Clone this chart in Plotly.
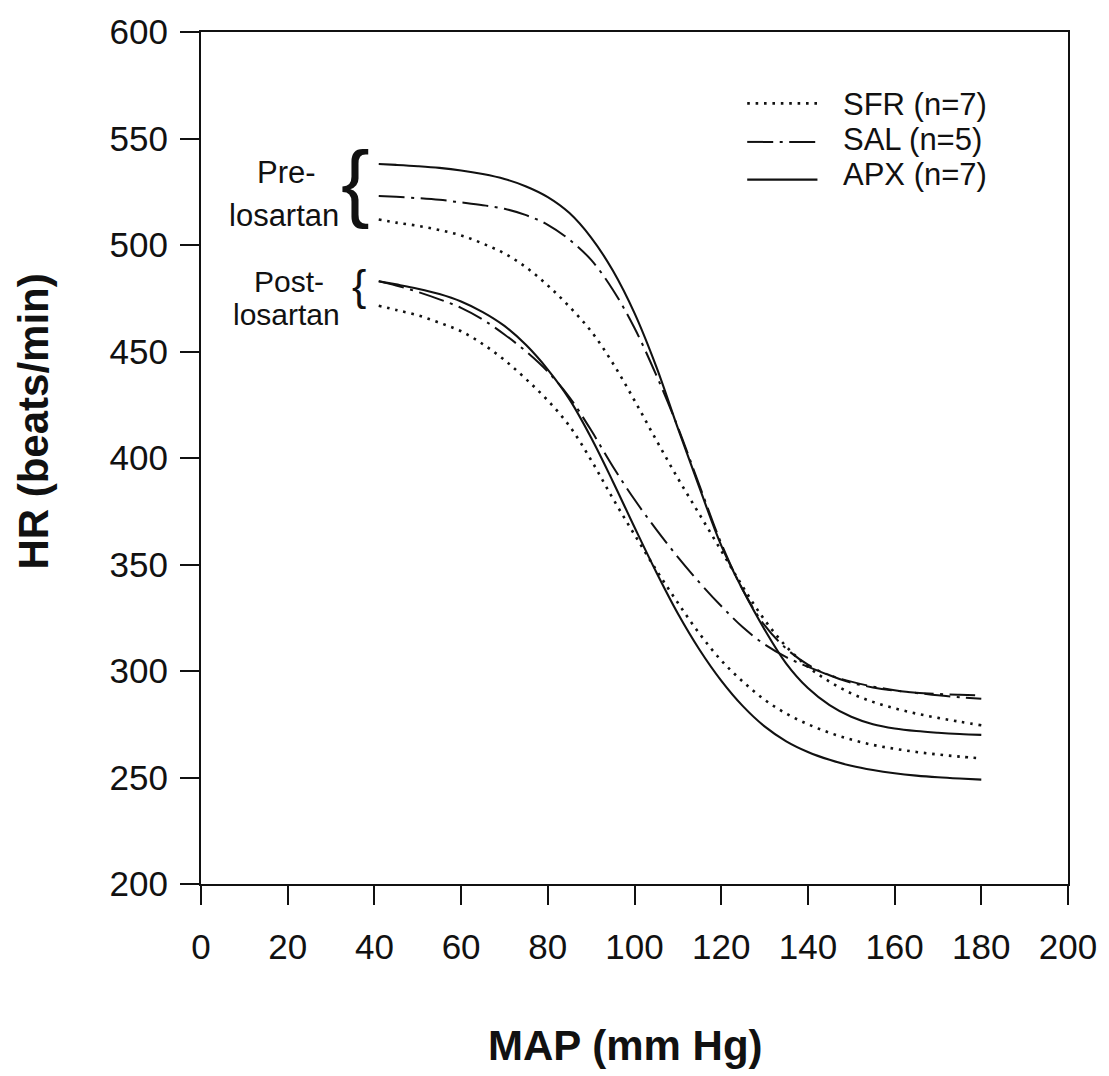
import plotly.graph_objects as go

# ---------------- data ----------------
MAP = [41, 45, 50, 55, 60, 65, 70, 75, 80, 85, 90, 95, 100, 105, 110, 115, 120,
       125, 130, 135, 140, 145, 150, 155, 160, 165, 170, 175, 180]

pre_sfr = [512, 510.5, 509, 507, 504.5, 500.7, 496, 489.5, 481, 471, 459.5, 444.5, 427, 408.5, 390.5,
           373.5, 356.5, 339.5, 324, 311.5, 302, 295, 289.5, 285.5, 282.5, 280, 278, 276.2, 274.5]
pre_sal = [523, 522.6, 522, 521.2, 520, 518.7, 517, 514, 509.5, 502.5, 493, 479, 461, 439, 414.5,
           387, 360, 338, 321.5, 310.5, 303, 298, 294.5, 292.3, 290.8, 289.8, 289.2, 288.8, 288.5]
pre_apx = [538, 537.6, 537, 536.2, 535, 533.3, 531, 527.5, 522.5, 515, 503.5, 488, 468, 443, 414,
           386, 359, 338, 319.5, 303.5, 292, 284, 278.5, 275, 273, 271.8, 271, 270.4, 270]

post_sfr = [471.5, 469.5, 467, 463.5, 459.5, 453.5, 446, 437, 427, 415, 399, 381, 364, 347.5, 332,
            317.5, 305, 295, 286.5, 280, 275, 271, 267.8, 265.3, 263.5, 262, 260.8, 259.8, 259]
post_sal = [483, 481, 478, 474.5, 470.5, 465, 458, 450, 440.5, 428.5, 413, 396, 380.5, 366.5, 353.5,
            341.5, 330.5, 320.5, 312.5, 306.5, 302, 298, 295, 292.7, 291, 289.7, 288.6, 287.7, 287]
post_apx = [483, 481.5, 479.5, 477, 473.5, 468.5, 462, 453, 441.5, 427.5, 409.5, 389, 367.5, 346.5, 327,
            310, 295.5, 283.5, 274, 267, 262, 258.3, 255.5, 253.5, 252, 250.9, 250.1, 249.5, 249]

groups = ["SFR (n=7)", "SAL (n=5)", "APX (n=7)"]
x_ticks = [0, 20, 40, 60, 80, 100, 120, 140, 160, 180, 200]
y_ticks = [200, 250, 300, 350, 400, 450, 500, 550, 600]

# ---------------- styles ----------------
FONT = "Liberation Sans, Arial, sans-serif"
BLACK = "#111111"
styles = {
    "SFR (n=7)": dict(width=2.6, dash="2.6px,5.8px"),
    "SAL (n=5)": dict(width=2.0, dash="26px,6.5px,3px,6.5px"),
    "APX (n=7)": dict(width=2.1, dash="solid"),
}

fig = go.Figure()

series = [
    ("SFR (n=7)", pre_sfr), ("SAL (n=5)", pre_sal), ("APX (n=7)", pre_apx),
    ("SFR (n=7)", post_sfr), ("SAL (n=5)", post_sal), ("APX (n=7)", post_apx),
]
for name, ys in series:
    st = styles[name]
    fig.add_trace(go.Scatter(
        x=MAP, y=ys, mode="lines", name=name, showlegend=False,
        line=dict(color=BLACK, width=st["width"], dash=st["dash"], shape="spline", smoothing=1.0),
        hoverinfo="skip",
    ))

# ---------------- manual legend ----------------
legend_line_y = [566.5, 548.4, 530.7]
legend_text_y = [566, 549.3, 533]
for g, ly, ty in zip(groups, legend_line_y, legend_text_y):
    st = styles[g]
    fig.add_shape(type="line", xref="x", yref="y", x0=126.0, x1=142.2, y0=ly, y1=ly,
                  line=dict(color=BLACK, width=st["width"], dash=st["dash"]))
    fig.add_annotation(x=147.7, y=ty, xref="x", yref="y", text=g, showarrow=False,
                       xanchor="left", yanchor="middle",
                       font=dict(family=FONT, size=31, color=BLACK))

# ---------------- Pre-/Post- losartan labels with braces ----------------
labels = [
    ("Pre-", 19.8, 533.9, 31), ("losartan", 19.1, 514.0, 31),
    ("Post-", 20.2, 483.0, 30), ("losartan", 19.7, 467.2, 30),
]
for t, x, y, s in labels:
    fig.add_annotation(x=x, y=y, xref="x", yref="y", text=t, showarrow=False,
                       xanchor="center", yanchor="middle",
                       font=dict(family=FONT, size=s, color=BLACK))

fig.add_annotation(x=35.7, y=530.0, xref="x", yref="y", text="{", showarrow=False,
                   xanchor="center", yanchor="middle",
                   font=dict(family=FONT, size=86, color=BLACK))
fig.add_annotation(x=36.4, y=481.3, xref="x", yref="y", text="{", showarrow=False,
                   xanchor="center", yanchor="middle",
                   font=dict(family=FONT, size=43, color=BLACK))

# ---------------- axis titles ----------------
fig.add_annotation(x=0.49, y=-0.189, xref="paper", yref="paper", text="MAP (mm Hg)",
                   showarrow=False, xanchor="center", yanchor="middle",
                   font=dict(family=FONT, size=42, color=BLACK, weight="bold"))
fig.add_annotation(x=-0.1935, y=0.543, xref="paper", yref="paper", text="HR (beats/min)",
                   showarrow=False, xanchor="center", yanchor="middle", textangle=-90,
                   font=dict(family=FONT, size=42, color=BLACK, weight="bold"))

axis_common = dict(
    showgrid=False, zeroline=False, showline=True, linecolor=BLACK, linewidth=2,
    mirror=True, ticks="outside", ticklen=19, tickwidth=2, tickcolor=BLACK,
    tickfont=dict(family=FONT, size=35, color=BLACK),
)
fig.update_xaxes(range=[0, 200], tickmode="array", tickvals=x_ticks,
                 ticktext=[str(v) for v in x_ticks], ticklabelstandoff=12, **axis_common)
fig.update_yaxes(range=[200, 600], tickmode="array", tickvals=y_ticks,
                 ticktext=[str(v) for v in y_ticks], ticklabelstandoff=5, **axis_common)

fig.update_layout(
    width=1109, height=1076, autosize=False,
    margin=dict(l=201, r=40, t=24, b=192, pad=0),
    paper_bgcolor="white", plot_bgcolor="white",
    font=dict(family=FONT, color=BLACK),
    showlegend=False,
)

fig.write_html("out.html")
